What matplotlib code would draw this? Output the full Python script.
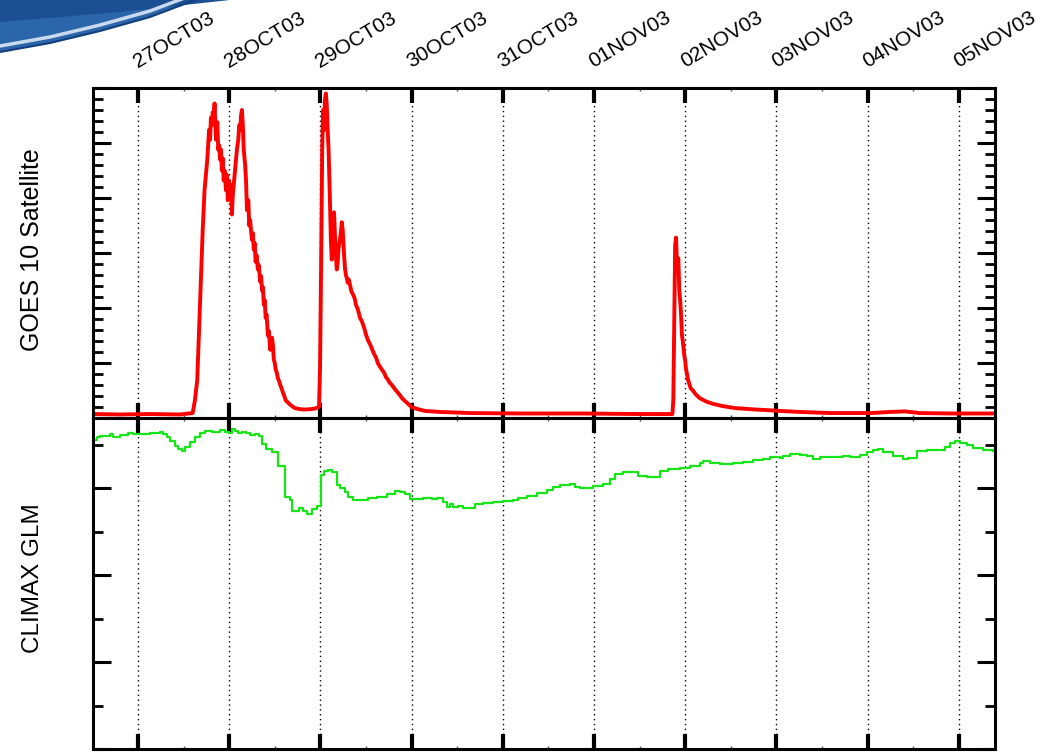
import datetime as dt
import matplotlib
matplotlib.use("Agg")
import matplotlib.pyplot as plt
import matplotlib.dates as mdates
import matplotlib.transforms as mtransforms
from matplotlib.ticker import MultipleLocator
from matplotlib.patches import Polygon
import numpy as np

plt.rcParams['font.family'] = ['Liberation Sans', 'DejaVu Sans']

# GOES 10 proton flux (pfu), time in days from 27 Oct 2003 00:00 UT
goes_t = [-0.49, -0.20, 0.13, 0.46, 0.60, 0.625, 0.65, 0.67, 0.69, 0.71, 0.73, 0.76,
          0.78, 0.79, 0.80, 0.81, 0.82, 0.83, 0.84, 0.855, 0.87, 0.88, 0.89, 0.90,
          0.91, 0.92, 0.93, 0.94, 0.95, 0.965, 0.975, 0.985, 0.995, 1.01, 1.02, 1.03,
          1.04, 1.05, 1.06, 1.075, 1.085, 1.10, 1.11, 1.12, 1.13, 1.14, 1.15, 1.16,
          1.175, 1.185, 1.195, 1.21, 1.22, 1.23, 1.24, 1.25, 1.26, 1.27, 1.28, 1.29,
          1.30, 1.315, 1.325, 1.34, 1.35, 1.36, 1.37, 1.38, 1.39, 1.40, 1.41, 1.425,
          1.435, 1.45, 1.46, 1.47, 1.48, 1.49, 1.50, 1.51, 1.52, 1.535, 1.55, 1.56,
          1.575, 1.59, 1.605, 1.62, 1.645, 1.67, 1.695, 1.72, 1.75, 1.78, 1.83, 1.89,
          1.94, 1.985, 1.996, 2.01, 2.02, 2.03, 2.04, 2.05, 2.06, 2.07, 2.08, 2.09,
          2.105, 2.115, 2.125, 2.135, 2.15, 2.16, 2.17, 2.18, 2.19, 2.20, 2.215, 2.225,
          2.235, 2.245, 2.26, 2.27, 2.28, 2.29, 2.30, 2.31, 2.325, 2.34, 2.36, 2.375,
          2.39, 2.41, 2.435, 2.455, 2.48, 2.50, 2.52, 2.545, 2.57, 2.59, 2.61, 2.63,
          2.65, 2.675, 2.70, 2.72, 2.74, 2.76, 2.785, 2.81, 2.83, 2.85, 2.87, 2.895,
          2.92, 2.94, 2.96, 2.98, 3.00, 3.035, 3.07, 3.15, 3.31, 3.64, 4.19, 4.85,
          5.50, 5.86, 5.87, 5.88, 5.89, 5.90, 5.91, 5.925, 5.935, 5.945, 5.955, 5.965,
          5.975, 5.99, 6.00, 6.01, 6.02, 6.03, 6.045, 6.06, 6.085, 6.11, 6.135, 6.16,
          6.195, 6.23, 6.265, 6.30, 6.35, 6.40, 6.475, 6.55, 6.63, 6.71, 6.79, 6.875,
          7.04, 7.26, 7.59, 8.03, 8.25, 8.41, 8.57, 8.90, 9.40]
goes_flux = [360, 320, 360, 320, 450, 1640, 3450, 8000, 12500, 17100, 20700, 23500,
             26200, 25300, 27300, 26600, 27800, 27300, 28600, 25300, 26900, 24400, 24800, 23500,
             24400, 22500, 23600, 21600, 22500, 20700, 22100, 19800, 21600, 20300, 21200, 18500,
             20300, 21200, 22100, 23500, 24400, 25300, 26600, 26200, 27500, 28000, 26600, 24400,
             23000, 21600, 18900, 19800, 17500, 18000, 17000, 16200, 16800, 15300, 15900, 14200,
             14800, 13500, 13900, 12400, 12900, 11600, 11900, 10300, 10700, 9100, 9400, 7500,
             7900, 6200, 6900, 7300, 6600, 5300, 5000, 4400, 4200, 3600, 3300, 3000,
             2700, 2300, 2000, 1600, 1400, 1200, 1050, 900, 850, 800, 770, 800,
             860, 1000, 4400, 15300, 24400, 28000, 26200, 28900, 29500, 28500, 26200, 24400,
             19800, 16200, 14400, 17100, 18700, 16600, 14800, 13500, 14200, 15500, 16200, 16900,
             17800, 17100, 14800, 13600, 13000, 12700, 12300, 12600, 12100, 11500, 11200, 10900,
             10300, 9900, 9100, 8800, 8200, 7600, 7100, 6700, 6200, 5800, 5500, 5000,
             4700, 4400, 4100, 3700, 3500, 3200, 3000, 2700, 2500, 2300, 2100, 1800,
             1600, 1450, 1300, 1150, 1000, 900, 800, 640, 550, 450, 410, 410,
             360, 360, 1640, 8900, 15700, 16400, 13900, 14500, 11600, 10700, 9400, 7500,
             6900, 5700, 5200, 4400, 4000, 3500, 3100, 2700, 2500, 2200, 2000, 1800,
             1650, 1500, 1400, 1300, 1200, 1100, 1000, 900, 850, 800, 760, 730,
             640, 550, 450, 450, 550, 600, 450, 410, 410]

# CLIMAX neutron monitor, hourly steps (% change)
climax_t = [-0.49, -0.45, -0.42, -0.31, -0.27, -0.20, -0.11, -0.05, 0.00, 0.13, 0.24, 0.27,
            0.32, 0.35, 0.41, 0.44, 0.48, 0.52, 0.57, 0.625, 0.68, 0.735, 0.81, 0.90,
            0.95, 0.995, 1.03, 1.06, 1.10, 1.14, 1.18, 1.23, 1.28, 1.33, 1.36, 1.40,
            1.47, 1.53, 1.61, 1.67, 1.69, 1.765, 1.81, 1.85, 1.91, 1.96, 2.005, 2.04,
            2.08, 2.13, 2.18, 2.215, 2.27, 2.30, 2.36, 2.43, 2.52, 2.62, 2.73, 2.82,
            2.87, 2.93, 2.98, 3.06, 3.125, 3.22, 3.28, 3.34, 3.39, 3.42, 3.45, 3.51,
            3.56, 3.70, 3.78, 3.89, 4.00, 4.11, 4.17, 4.27, 4.375, 4.48, 4.55, 4.63,
            4.74, 4.79, 4.85, 4.99, 5.10, 5.175, 5.23, 5.32, 5.48, 5.58, 5.72, 5.81,
            5.94, 6.05, 6.16, 6.20, 6.27, 6.38, 6.52, 6.63, 6.74, 6.85, 6.93, 7.04,
            7.07, 7.15, 7.26, 7.34, 7.40, 7.48, 7.62, 7.73, 7.81, 7.92, 7.99, 8.06,
            8.11, 8.17, 8.28, 8.39, 8.44, 8.54, 8.65, 8.76, 8.85, 8.90, 8.96, 9.01,
            9.09, 9.16, 9.27, 9.375, 9.40]
climax_pct = [5.5, 5.9, 6.0, 6.2, 5.9, 6.1, 6.3, 6.2, 6.25, 6.3, 6.4, 6.2,
              5.9, 5.4, 4.8, 4.5, 4.3, 4.7, 5.3, 5.9, 6.3, 6.55, 6.4, 6.7,
              6.4, 6.3, 6.8, 6.55, 6.3, 6.4, 6.3, 6.1, 6.2, 6.0, 5.1, 4.5,
              4.1, 2.5, -1.0, -1.4, -2.6, -2.3, -2.6, -3.0, -2.4, -2.1, 1.5, 2.0,
              2.05, 1.8, 0.3, 0.0, -0.5, -1.0, -1.4, -1.4, -1.15, -1.0, -0.7, -0.35,
              -0.5, -0.7, -1.3, -1.3, -1.15, -1.3, -1.15, -1.6, -2.2, -1.8, -2.2, -2.1,
              -2.3, -1.8, -1.7, -1.6, -1.5, -1.4, -1.15, -0.9, -0.6, -0.2, 0.1, 0.3,
              0.45, 0.1, 0.0, 0.2, 0.45, 1.0, 1.6, 1.8, 1.4, 1.3, 2.0, 2.2,
              2.3, 2.5, 2.9, 3.1, 2.9, 2.8, 2.9, 3.0, 3.2, 3.3, 3.6, 3.45,
              3.7, 3.9, 3.8, 3.7, 3.3, 3.55, 3.55, 3.7, 3.55, 3.8, 4.1, 4.4,
              4.5, 4.1, 3.7, 3.3, 3.45, 4.25, 4.4, 4.4, 4.7, 5.2, 5.4, 5.2,
              4.9, 4.6, 4.4, 4.3, 4.3]

n_days = 10
start = dt.datetime(2003, 10, 27)
base = mdates.date2num(start)
x_lo, x_hi = base - 0.493, base + 9.397

fig = plt.figure(figsize=(10.52, 7.52), dpi=100)
W, H = 1052, 752

def fbox(l, t, r, b):
    return [l / W, 1 - b / H, (r - l) / W, (b - t) / H]

ax1 = fig.add_axes(fbox(93, 88, 995, 418))
ax2 = fig.add_axes(fbox(93, 418, 995, 749), sharex=ax1)

ax1.plot(base + np.array(goes_t), goes_flux, color='#ff0000', lw=2.8,
         solid_joinstyle='round')
ax2.plot(base + np.array(climax_t), climax_pct, color='#16e616', lw=1.6,
         drawstyle='steps-post')

ax1.set_xlim(x_lo, x_hi)
ax1.set_ylim(0, 30000)
ax1.yaxis.set_major_locator(MultipleLocator(5000))
ax1.yaxis.set_minor_locator(MultipleLocator(1000))
ax2.set_ylim(-30, 8.05)
ax2.yaxis.set_major_locator(MultipleLocator(10))
ax2.yaxis.set_minor_locator(MultipleLocator(5))

for ax in (ax1, ax2):
    ax.xaxis.set_major_locator(mdates.DayLocator())
    ax.xaxis.set_minor_locator(mdates.HourLocator(byhour=[12]))
    for s in ax.spines.values():
        s.set_linewidth(2.2)
    ax.tick_params(axis='x', which='major', direction='in', length=11, width=3,
                   top=True, bottom=True, labelbottom=False, labeltop=False)
    ax.tick_params(axis='x', which='minor', direction='in', length=2, width=1,
                   top=True, bottom=True, color='#555555')
    ax.tick_params(axis='y', which='major', direction='in', length=13, width=2.2,
                   left=True, right=True, labelleft=False)
    ax.tick_params(axis='y', which='minor', direction='in', length=7, width=2,
                   left=True, right=True)
    ax.grid(True, axis='x', which='major', color='black', linestyle=(0, (1, 2.5)), lw=1)

# slanted day labels above the top panel
trans = mtransforms.blended_transform_factory(ax1.transData, ax1.transAxes)
for d in range(n_days):
    day = base + d
    label = mdates.num2date(day).strftime('%d%b%y').upper()
    ax1.text(day - 0.005, 1.06, label, transform=trans, rotation=31,
             rotation_mode='anchor', ha='left', va='baseline', fontsize=15,
             clip_on=False)

ax1.set_ylabel('GOES 10 Satellite', fontsize=18)
ax2.set_ylabel('CLIMAX GLM', fontsize=17.5)
ax1.yaxis.set_label_coords(-0.054, 0.51)
ax2.yaxis.set_label_coords(-0.054, 0.517)

# blue header swoosh in the top-left corner
def fp(px, py):
    return (px / W, 1 - py / H)

edge = [(0, 52), (50, 43), (100, 31), (150, 17), (195, 0)]
band = Polygon([fp(0, 0), fp(230, 0)] + [fp(*p) for p in reversed(edge)],
               closed=True, transform=fig.transFigure, facecolor='#2c66aa',
               edgecolor='none', zorder=0)
fig.patches.append(band)
shade = Polygon([fp(0, 0), fp(230, 0), fp(120, 12), fp(0, 22)], closed=True,
                transform=fig.transFigure, facecolor='#1b4f92', edgecolor='none', zorder=0)
fig.patches.append(shade)
hx = [p[0] / W for p in edge]
hy = [1 - (p[1] - 6) / H for p in edge]
fig.add_artist(plt.Line2D(hx, hy, transform=fig.transFigure, color='#c9d9ef', lw=2.5))
ey = [1 - p[1] / H for p in edge]
fig.add_artist(plt.Line2D(hx, ey, transform=fig.transFigure, color='#123f7e', lw=1.5))

fig.savefig('out.png', dpi=100)
